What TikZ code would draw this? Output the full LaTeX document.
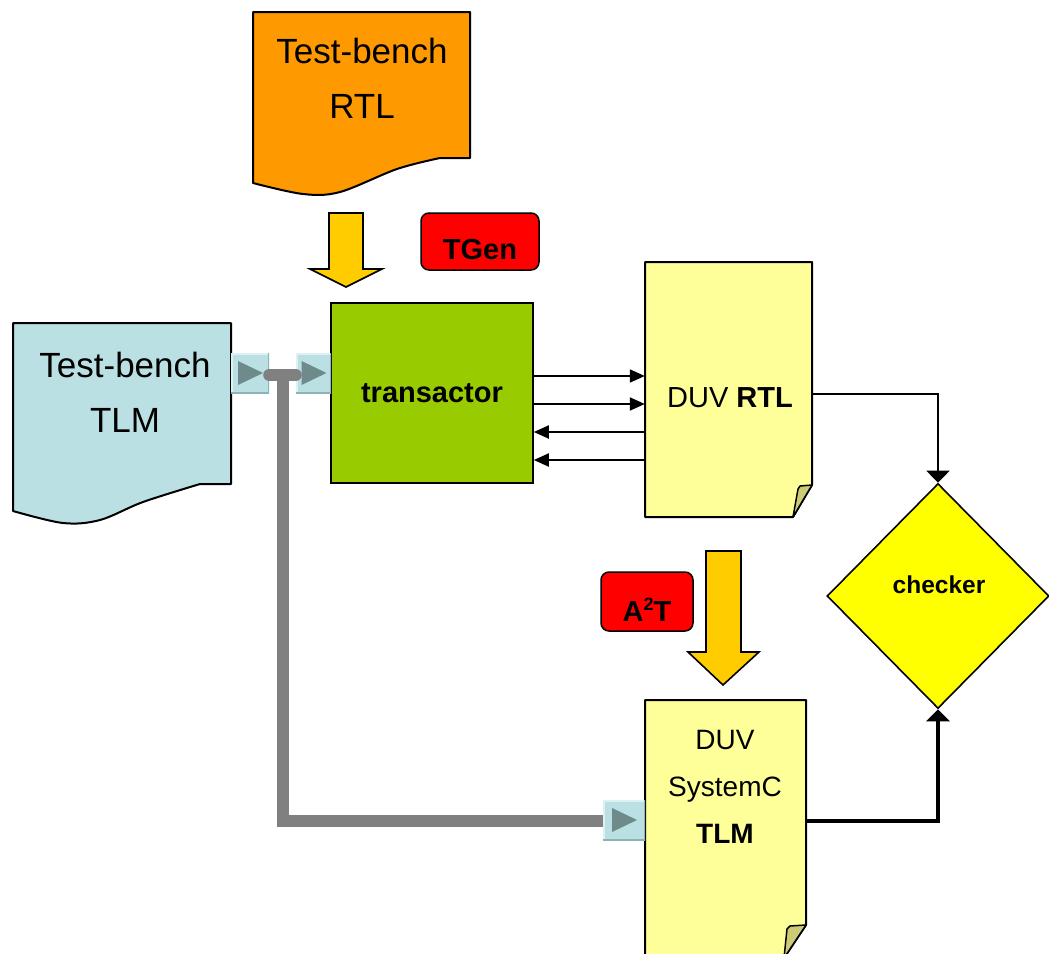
\documentclass[tikz,border=0pt]{standalone}
\usepackage{fontspec}
\setmainfont{Liberation Sans}
\usetikzlibrary{arrows.meta,shapes.geometric,calc}
\definecolor{orangedoc}{HTML}{FF9900}
\definecolor{bluedoc}{HTML}{BBE0E3}
\definecolor{greenbox}{HTML}{99CC00}
\definecolor{arrowyellow}{HTML}{FFCC00}
\definecolor{paper}{HTML}{FFFF99}
\definecolor{foldcol}{HTML}{CCCC77}
\definecolor{diamondyellow}{HTML}{FFFF00}
\definecolor{bargray}{HTML}{808080}
\definecolor{porttri}{HTML}{6F8A8A}
\definecolor{portlight}{HTML}{DDF0F2}
\definecolor{portdark}{HTML}{8DB3B6}
\definecolor{tagred}{HTML}{FF0000}
\begin{document}
\begin{tikzpicture}[x=1pt,y=-1pt,
  outline/.style={draw=black,line width=2pt,line join=round},
  blockarrow/.style={fill=arrowyellow,draw=black,line width=1.6pt,line join=miter},
  holder/.style={rectangle,draw=none,inner sep=0pt},
  tag/.style={rectangle,rounded corners=8pt,fill=tagred,draw=black,line width=1.5pt,inner sep=0pt},
  tagtext/.style={font=\fontsize{29}{34}\selectfont\bfseries,inner sep=0pt},
  port/.style={rectangle,fill=bluedoc,inner sep=0pt,minimum height=40pt,
    path picture={
      \draw[portlight,line width=3pt] (path picture bounding box.south west) -- (path picture bounding box.north west) -- (path picture bounding box.north east);
      \draw[portdark,line width=3pt] (path picture bounding box.north east) -- (path picture bounding box.south east) -- (path picture bounding box.south west);
      \fill[porttri] ($(path picture bounding box.center)+(-12,-12)$) -- ($(path picture bounding box.center)+(-12,12)$) -- ($(path picture bounding box.center)+(13,0)$) -- cycle;
    }},
  sig/.style={draw=black,line width=2pt,-{Triangle[length=15pt,width=13pt]}},
  chk/.style={draw=black,-{Triangle[length=12pt,width=23pt]}},
  bar/.style={draw=bargray,line width=12pt},
  ]
\useasboundingbox (0,0) rectangle (1049,953);
\clip (0,0) rectangle (1049,953);

% Test-bench RTL document
\path[outline,fill=orangedoc] (470,12) -- (253,12) -- (253,183)
  -- plot[smooth,tension=0.55] coordinates {(253,183) (303,194) (340,192) (397,169) (440,158)}
  -- (470,158) -- cycle;
\node[holder,font=\fontsize{35}{55}\selectfont,align=center] (tbrtl) at (362,78) {Test-bench\\RTL};

% Test-bench TLM document
\path[outline,fill=bluedoc] (231,323) -- (13,323) -- (13,511)
  -- plot[smooth,tension=0.55] coordinates {(13,511) (63,523) (100,520) (143,502) (200,484)}
  -- (231,484) -- cycle;
\node[holder,font=\fontsize{35}{55}\selectfont,align=center] (tbtlm) at (125,392) {Test-bench\\TLM};

% block arrow 1
\path[blockarrow] (329,213) -- (363,213) -- (363,269) -- (382,269) -- (346,287) -- (310,269) -- (329,269) -- cycle;

% TGen tag
\node[tag,minimum width=118pt,minimum height=57pt,
  label={[tagtext,yshift=-8pt]center:TGen}] (tgen) at (480,241.5) {};

% transactor
\node[rectangle,fill=greenbox,draw=black,line width=1.6pt,minimum width=202pt,minimum height=180pt,inner sep=0pt,
  font=\fontsize{29}{34}\selectfont\bfseries] (trans) at (432,393) {transactor};

% DUV RTL document
\node[holder,minimum width=167pt,minimum height=255pt] (duvrtl) at (728.5,389.5) {};
\path[outline,fill=paper] (645,262) -- (812,262) -- (812,485) -- (793,517) -- (645,517) -- cycle;
\path[outline,fill=foldcol,line width=1.5pt] (812,485) -- (800,486) -- (798,489) -- (793,517) -- cycle;
\node[holder,font=\fontsize{29}{34}\selectfont] (duvrtltext) at (730,398) {DUV \textbf{RTL}};

% DUV SystemC TLM document
\node[holder,minimum width=161pt,minimum height=256pt] (duvtlm) at (725.5,828) {};
\path[outline,fill=paper] (645,700) -- (806,700) -- (806,925) -- (784,958) -- (645,958) -- cycle;
\path[outline,fill=foldcol,line width=1.5pt] (806,925) -- (790,926) -- (787,929) -- (784,958) -- cycle;
\node[holder,font=\fontsize{28}{47}\selectfont,align=center] (duvtlmtext) at (725,787) {DUV\\SystemC\\\textbf{TLM}};

% block arrow 2
\path[blockarrow] (706,551) -- (741,551) -- (741,652) -- (759,652) -- (723,685) -- (688,652) -- (706,652) -- cycle;

% A2T tag
\node[tag,minimum width=92pt,minimum height=59pt,
  label={[tagtext,yshift=-8pt]center:A{\fontsize{18}{20}\selectfont\raisebox{11pt}{2}}T}] (a2t) at (647,601.5) {};

% checker
\node[diamond,aspect=1,fill=diamondyellow,draw=black,line width=1.6pt,inner sep=0pt,
  minimum width=222pt,minimum height=225pt] (checker) at (938,596) {};
\node[holder,font=\fontsize{24.5}{28}\selectfont\bfseries] (checkertext) at (939,585) {checker};

% signals transactor <-> DUV RTL
\draw[sig] (trans.east |- 0,376) -- (duvrtl.west |- 0,376);
\draw[sig] (trans.east |- 0,404) -- (duvrtl.west |- 0,404);
\draw[sig] (duvrtl.west |- 0,432) -- (trans.east |- 0,432);
\draw[sig] (duvrtl.west |- 0,460) -- (trans.east |- 0,460);

% to checker
\draw[chk,line width=2pt] (duvrtl.east |- 0,394) -| (checker.north);
\draw[chk,line width=4pt] (duvtlm.east |- 0,821) -| (checker.south);

% ports
\node[port,minimum width=38pt] (p1) at (250,373) {};
\node[port,minimum width=35pt] (p2) at (313.5,373) {};
\node[port,minimum width=42pt] (p3) at (624,820) {};

% gray bar
\coordinate (j) at (283,375);
\draw[bar,line cap=round] (p1.east |- j) -- (p2.west |- j);
\draw[bar,line join=miter] (j) -- (j |- 0,821) -- (p3.west |- 0,821);
\end{tikzpicture}
\end{document}
